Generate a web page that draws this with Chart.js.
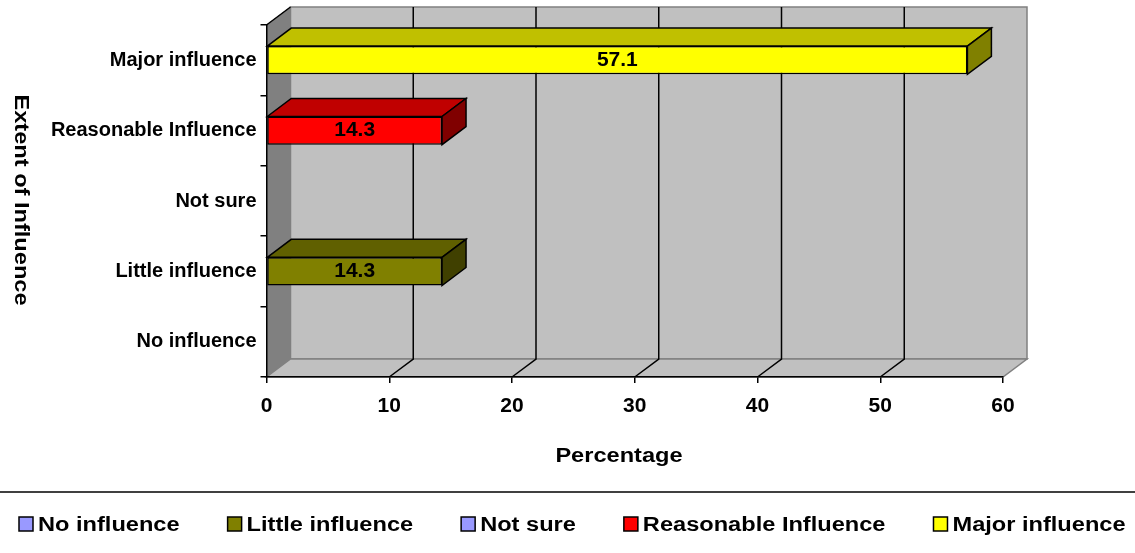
<!DOCTYPE html>
<html>
<head>
<meta charset="utf-8">
<script src="https://cdn.jsdelivr.net/npm/chart.js@4/dist/chart.umd.min.js"></script>
<style>
  html, body { margin: 0; padding: 0; background: #ffffff; }
  #wrap { width: 1135px; height: 553px; }
</style>
</head>
<body>
<div id="wrap"><canvas id="chart" width="1135" height="553"></canvas></div>
<script>
// Survey responses: share of respondents by extent of influence (bottom to top)
const categories = ['No influence', 'Little influence', 'Not sure', 'Reasonable Influence', 'Major influence'];
const percentages = [0, 14.3, 0, 14.3, 57.1];
const xTickValues = [0, 10, 20, 30, 40, 50, 60];

// Front, top and side face colours of each 3-D bar
const faceColors = ['#9999FF', '#808000', '#9999FF', '#FF0000', '#FFFF00'];
const topColors  = ['#7A7ACC', '#606000', '#7A7ACC', '#C00000', '#C0C000'];
const sideColors = ['#5C5C99', '#404000', '#5C5C99', '#800000', '#808000'];

const xTitle = 'Percentage';
const yTitle = 'Extent of Influence';

const FONT = '"Liberation Sans", Arial, Helvetica, sans-serif';
const DEPTH_X = 24;   // 3-D depth offset of walls and bars
const DEPTH_Y = -18;
const WIDE = 1.18;    // horizontal stretch used for titles and legend text

function poly(ctx, pts, fill, stroke, lw) {
  ctx.beginPath();
  ctx.moveTo(pts[0][0], pts[0][1]);
  for (let i = 1; i < pts.length; i++) ctx.lineTo(pts[i][0], pts[i][1]);
  ctx.closePath();
  if (fill) { ctx.fillStyle = fill; ctx.fill(); }
  if (stroke) { ctx.strokeStyle = stroke; ctx.lineWidth = lw || 1; ctx.stroke(); }
}

function wideText(ctx, text, x, y, align) {
  ctx.save();
  ctx.translate(x, y);
  ctx.scale(WIDE, 1);
  ctx.textAlign = align || 'center';
  ctx.fillText(text, 0, 0);
  ctx.restore();
}

const box3d = {
  id: 'box3d',
  beforeDraw(chart) {
    const ctx = chart.ctx;
    const a = chart.chartArea;
    const xs = chart.scales.x;
    const L = a.left, R = a.right, T = a.top, B = a.bottom;
    ctx.save();
    ctx.fillStyle = '#ffffff';
    ctx.fillRect(0, 0, chart.width, chart.height);
    ctx.lineJoin = 'miter';
    // side wall
    poly(ctx, [[L, T], [L + DEPTH_X, T + DEPTH_Y], [L + DEPTH_X, B + DEPTH_Y], [L, B]], '#808080', '#808080', 1);
    // back wall
    poly(ctx, [[L + DEPTH_X, T + DEPTH_Y], [R + DEPTH_X, T + DEPTH_Y], [R + DEPTH_X, B + DEPTH_Y], [L + DEPTH_X, B + DEPTH_Y]], '#C0C0C0', '#808080', 1.5);
    // floor
    poly(ctx, [[L, B], [L + DEPTH_X, B + DEPTH_Y], [R + DEPTH_X, B + DEPTH_Y], [R, B]], '#C0C0C0', '#808080', 1.5);
    // grid lines on back wall and floor
    ctx.strokeStyle = '#000000';
    ctx.lineWidth = 1.5;
    xTickValues.slice(1, -1).forEach(v => {
      const px = xs.getPixelForValue(v);
      ctx.beginPath();
      ctx.moveTo(px + DEPTH_X, T + DEPTH_Y);
      ctx.lineTo(px + DEPTH_X, B + DEPTH_Y);
      ctx.lineTo(px, B);
      ctx.stroke();
    });
    // top edge of the side wall
    ctx.beginPath();
    ctx.moveTo(L, T);
    ctx.lineTo(L + DEPTH_X, T + DEPTH_Y);
    ctx.stroke();
    ctx.restore();
  },
  afterDatasetsDraw(chart) {
    const ctx = chart.ctx;
    const meta = chart.getDatasetMeta(0);
    ctx.save();
    ctx.lineJoin = 'miter';
    meta.data.forEach((bar, i) => {
      const v = percentages[i];
      if (!(v > 0)) return;
      const p = bar.getProps(['x', 'y', 'base', 'height'], true);
      const yt = p.y - p.height / 2, yb = p.y + p.height / 2;
      const x0 = p.base, x1 = p.x;
      poly(ctx, [[x0, yt], [x0 + DEPTH_X, yt + DEPTH_Y], [x1 + DEPTH_X, yt + DEPTH_Y], [x1, yt]], topColors[i], '#000000', 1.5);
      poly(ctx, [[x1, yt], [x1 + DEPTH_X, yt + DEPTH_Y], [x1 + DEPTH_X, yb + DEPTH_Y], [x1, yb]], sideColors[i], '#000000', 1.5);
      ctx.fillStyle = '#000000';
      ctx.font = 'bold 21px ' + FONT;
      ctx.textAlign = 'center';
      ctx.textBaseline = 'middle';
      ctx.fillText(v.toFixed(1), (x0 + x1) / 2, p.y);
    });
    ctx.restore();
  },
  afterDraw(chart) {
    const ctx = chart.ctx;
    ctx.save();
    ctx.fillStyle = '#000000';
    ctx.textBaseline = 'middle';
    ctx.font = 'bold 20px ' + FONT;
    // axis titles
    wideText(ctx, xTitle, 619, 456, 'center');
    ctx.save();
    ctx.translate(21, 200);
    ctx.rotate(Math.PI / 2);
    wideText(ctx, yTitle, 0, 0, 'center');
    ctx.restore();
    // legend separator
    ctx.strokeStyle = '#000000';
    ctx.lineWidth = 1.5;
    ctx.beginPath();
    ctx.moveTo(0, 492);
    ctx.lineTo(chart.width, 492);
    ctx.stroke();
    // legend entries
    const yc = 524, box = 14, gapText = 5, gapItem = 48;
    let x = 19;
    categories.forEach((name, i) => {
      ctx.fillStyle = faceColors[i];
      ctx.fillRect(x, yc - box / 2, box, box);
      ctx.strokeStyle = '#000000';
      ctx.lineWidth = 1.5;
      ctx.strokeRect(x, yc - box / 2, box, box);
      ctx.fillStyle = '#000000';
      const tx = x + box + gapText;
      wideText(ctx, name, tx, yc + 1, 'left');
      x = tx + ctx.measureText(name).width * WIDE + gapItem;
    });
    ctx.restore();
  }
};

new Chart(document.getElementById('chart'), {
  type: 'bar',
  data: {
    labels: categories,
    datasets: [{
      data: percentages,
      backgroundColor: faceColors,
      borderColor: '#000000',
      borderWidth: c => (c.raw > 0 ? 1.5 : 0),
      borderSkipped: false,
      barPercentage: 0.4,
      categoryPercentage: 1.0
    }]
  },
  options: {
    indexAxis: 'y',
    responsive: false,
    animation: false,
    devicePixelRatio: 1,
    layout: { padding: { top: 25, right: 132, left: 0, bottom: 0 } },
    plugins: { legend: { display: false }, tooltip: { enabled: false } },
    scales: {
      x: {
        type: 'linear',
        min: 0,
        max: 60,
        afterBuildTicks: s => { s.ticks = xTickValues.map(v => ({ value: v })); },
        afterFit: s => { s.height = 176; },
        grid: { display: true, drawOnChartArea: false, drawTicks: true, tickLength: 6, color: '#000000', lineWidth: 1.5 },
        border: { display: true, color: '#000000', width: 1.5 },
        ticks: { color: '#000000', padding: 11, font: { family: FONT, size: 21, weight: 'bold' } }
      },
      y: {
        reverse: true,
        afterFit: s => { s.width = 266.5; },
        grid: { display: true, drawOnChartArea: false, drawTicks: true, tickLength: 6, color: '#000000', lineWidth: 1.5, offset: true },
        border: { display: true, color: '#000000', width: 1.5 },
        ticks: { color: '#000000', padding: 4, font: { family: FONT, size: 20, weight: 'bold' } }
      }
    }
  },
  plugins: [box3d]
});
</script>
</body>
</html>
